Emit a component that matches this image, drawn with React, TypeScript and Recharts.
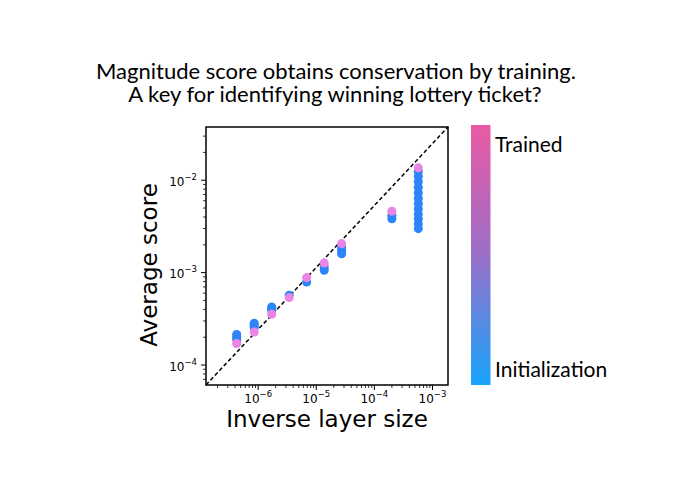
import React from 'react';
import { ScatterChart, Scatter, XAxis, YAxis, ZAxis, ReferenceLine, ReferenceArea } from 'recharts';

// ---- data ----
const inverseLayerSize = [4.27e-7, 8.54e-7, 1.71e-6, 3.42e-6, 6.83e-6, 1.37e-5, 2.73e-5, 2.0e-4, 5.7e-4];
const initScores: number[][] = [
  [2.14e-4, 2.0e-4, 1.89e-4],
  [2.83e-4, 2.68e-4, 2.54e-4],
  [4.25e-4, 4.05e-4, 3.91e-4],
  [5.69e-4],
  [7.91e-4],
  [1.15e-3, 1.06e-3],
  [1.86e-3, 1.72e-3, 1.6e-3],
  [4.16e-3, 3.83e-3],
  [1.25e-2, 1.1e-2, 9.6e-3, 8.4e-3, 7.3e-3, 6.4e-3, 5.6e-3, 4.9e-3, 4.3e-3, 3.8e-3, 3.35e-3, 2.99e-3],
];
const trainedScores = [1.71e-4, 2.28e-4, 3.54e-4, 5.37e-4, 8.83e-4, 1.27e-3, 2.06e-3, 4.61e-3, 1.36e-2];

const xMajorExponents = [-6, -5, -4, -3];
const yMajorExponents = [-4, -3, -2];
const xDomain: [number, number] = [1.265e-7, 1.849e-3];
const yDomain: [number, number] = [6.08e-5, 3.767e-2];

const titleLines = [
  'Magnitude score obtains conservation by training.',
  'A key for identifying winning lottery ticket?',
];
const xLabel = 'Inverse layer size';
const yLabel = 'Average score';
const colorbarTop = 'Trained';
const colorbarBottom = 'Initialization';

// ---- derived ----
const initData = initScores.flatMap((col, i) => col.map((v) => ({ x: inverseLayerSize[i], y: v })));
const trainedData = trainedScores.map((v, i) => ({ x: inverseLayerSize[i], y: v }));

function buildTicks(domain: [number, number]) {
  const out: number[] = [];
  const lo = Math.floor(Math.log10(domain[0]));
  const hi = Math.ceil(Math.log10(domain[1]));
  for (let e = lo; e <= hi; e++) {
    for (let m = 1; m <= 9; m++) {
      const v = m * Math.pow(10, e);
      if (v >= domain[0] && v <= domain[1]) out.push(v);
    }
  }
  return out;
}
const xTicks = buildTicks(xDomain);
const yTicks = buildTicks(yDomain);

function majorExp(v: number, exps: number[]) {
  for (const e of exps) {
    if (Math.abs(v / Math.pow(10, e) - 1) < 1e-6) return e;
  }
  return null;
}

const FONT = 'DejaVu Sans';

const renderXTick = (props: any) => {
  const { x, y, payload } = props;
  const e = majorExp(payload.value, xMajorExponents);
  const major = e !== null;
  return (
    <g key={'xt' + payload.value}>
      <line x1={x} x2={x} y1={y} y2={y + (major ? 5 : 3)} stroke="#000" strokeWidth={major ? 1 : 0.8} />
      {major && (
        <text x={x} y={y + 18.3} textAnchor="middle" fontFamily={FONT} fontSize={12} fill="#000">
          10<tspan dy={-6} fontSize={8.5}>{'\u2212' + Math.abs(e as number)}</tspan>
        </text>
      )}
    </g>
  );
};

const renderYTick = (props: any) => {
  const { x, y, payload } = props;
  const e = majorExp(payload.value, yMajorExponents);
  const major = e !== null;
  return (
    <g key={'yt' + payload.value}>
      <line x1={x} x2={x - (major ? 5 : 3)} y1={y} y2={y} stroke="#000" strokeWidth={major ? 1 : 0.8} />
      {major && (
        <text x={x - 9} y={y + 5.7} textAnchor="end" fontFamily={FONT} fontSize={12} fill="#000">
          10<tspan dy={-6} fontSize={8.5}>{'\u2212' + Math.abs(e as number)}</tspan>
        </text>
      )}
    </g>
  );
};

export default function App() {
  return (
    <div style={{ position: 'fixed', left: 0, top: 0, width: 680, height: 485, background: '#fff' }}>
      <ScatterChart
        width={680}
        height={485}
        margin={{ top: 127, right: 232, bottom: 70, left: 146 }}
      >
        <XAxis
          type="number"
          dataKey="x"
          scale="log"
          domain={xDomain}
          allowDataOverflow
          ticks={xTicks}
          interval={0}
          height={30}
          tickSize={0}
          tickMargin={0}
          tickLine={false}
          axisLine={false}
          tick={renderXTick}
        />
        <YAxis
          type="number"
          dataKey="y"
          scale="log"
          domain={yDomain}
          allowDataOverflow
          ticks={yTicks}
          interval={0}
          width={60}
          tickSize={0}
          tickMargin={0}
          tickLine={false}
          axisLine={false}
          tick={renderYTick}
        />
        <ZAxis range={[80, 80]} />
        <ReferenceLine
          segment={[{ x: xDomain[0], y: yDomain[0] }, { x: xDomain[1], y: yDomain[1] }]}
          stroke="#000"
          strokeWidth={1.5}
          strokeDasharray="4 2.5"
          ifOverflow="visible"
        />
        <Scatter data={initData} fill="#2b85f7" isAnimationActive={false} />
        <Scatter data={trainedData} fill="#ea85e6" isAnimationActive={false} />
        <ReferenceArea
          x1={xDomain[0]}
          x2={xDomain[1]}
          y1={yDomain[0]}
          y2={yDomain[1]}
          fill="none"
          fillOpacity={0}
          stroke="#000"
          strokeWidth={1.5}
          ifOverflow="visible"
        />
      </ScatterChart>
      <svg
        width={680}
        height={485}
        style={{ position: 'absolute', left: 0, top: 0, pointerEvents: 'none' }}
      >
        <defs>
          <linearGradient id="cbar" x1="0" y1="0" x2="0" y2="1">
            <stop offset="0%" stopColor="#ea5aa4" />
            <stop offset="50%" stopColor="#9a6fc8" />
            <stop offset="100%" stopColor="#18a4fc" />
          </linearGradient>
        </defs>
        <text textAnchor="middle" fontFamily="Lato" fontSize={22} fill="#000">
          <tspan x={336} y={79}>{titleLines[0]}</tspan>
          <tspan x={335} y={102}>{titleLines[1]}</tspan>
        </text>
        <text x={327} y={427} textAnchor="middle" fontFamily={FONT} fontSize={23} fill="#000">
          {xLabel}
        </text>
        <text
          x={0}
          y={0}
          textAnchor="middle"
          fontFamily={FONT}
          fontSize={23}
          fill="#000"
          transform="translate(156.5,265) rotate(-90)"
        >
          {yLabel}
        </text>
        <rect x={471} y={125} width={19.5} height={260} fill="url(#cbar)" />
        <text x={495} y={151.5} fontFamily="Lato" fontSize={21} fill="#000">
          {colorbarTop}
        </text>
        <text x={495} y={376.5} fontFamily="Lato" fontSize={21} fill="#000">
          {colorbarBottom}
        </text>
      </svg>
    </div>
  );
}
